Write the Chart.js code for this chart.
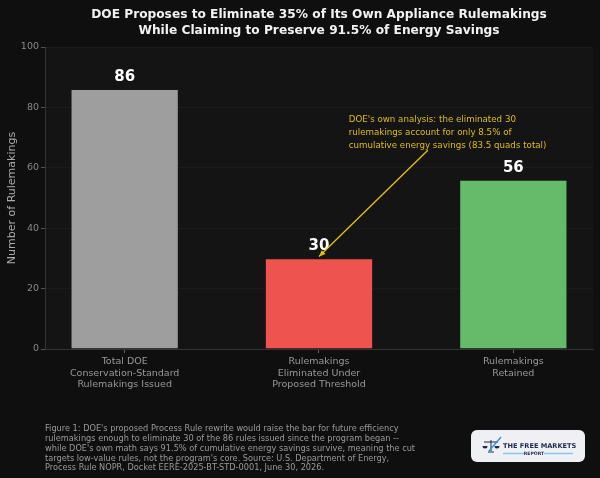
<!DOCTYPE html>
<html><head><meta charset="utf-8">
<script src="https://cdn.jsdelivr.net/npm/chart.js@4/dist/chart.umd.min.js"></script>
<style>html,body{margin:0;padding:0;background:#0f0f0f;}#wrap{width:600px;height:478px;position:relative;}</style>
</head><body><div id="wrap"><canvas id="c" width="600" height="478"></canvas></div>
<script>
const categories = [
  ["Total DOE", "Conservation-Standard", "Rulemakings Issued"],
  ["Rulemakings", "Eliminated Under", "Proposed Threshold"],
  ["Rulemakings", "Retained"]
];
const counts = [86, 30, 56];
const barColors = ["#9e9e9e", "#ef5350", "#66bb6a"];
const yTicks = [0, 20, 40, 60, 80, 100];
const titleLines = ["DOE Proposes to Eliminate 35% of Its Own Appliance Rulemakings", "While Claiming to Preserve 91.5% of Energy Savings"];
const yAxisTitle = "Number of Rulemakings";
const annotationLines = ["DOE's own analysis: the eliminated 30", "rulemakings account for only 8.5% of", "cumulative energy savings (83.5 quads total)"];
const captionLines = [
  "Figure 1: DOE's proposed Process Rule rewrite would raise the bar for future efficiency",
  "rulemakings enough to eliminate 30 of the 86 rules issued since the program began --",
  "while DOE's own math says 91.5% of cumulative energy savings survive, meaning the cut",
  "targets low-value rules, not the program's core. Source: U.S. Department of Energy,",
  "Process Rule NOPR, Docket EERE-2025-BT-STD-0001, June 30, 2026."
];
const FONT = "'DejaVu Sans', sans-serif";

const decor = {
  id: 'decor',
  beforeDraw(chart) {
    const ctx = chart.ctx, a = chart.chartArea;
    ctx.save();
    ctx.fillStyle = '#0f0f0f';
    ctx.fillRect(0, 0, chart.width, chart.height);
    ctx.fillStyle = '#141414';
    ctx.fillRect(a.left, a.top, a.right - a.left, a.bottom - a.top);
    ctx.restore();
  },
  afterDraw(chart) {
    const ctx = chart.ctx, a = chart.chartArea;
    const xs = chart.scales.x, ys = chart.scales.y;
    ctx.save();
    // title
    ctx.fillStyle = '#f2f2f2';
    ctx.font = "bold 12.2px " + FONT;
    ctx.textAlign = 'center';
    ctx.textBaseline = 'middle';
    const cx = (a.left + a.right) / 2;
    ctx.fillText(titleLines[0], cx, 14.5);
    ctx.fillText(titleLines[1], cx, 31);
    // y axis title
    ctx.save();
    ctx.translate(12, (a.top + a.bottom) / 2);
    ctx.rotate(-Math.PI / 2);
    ctx.fillStyle = '#aaaaaa';
    ctx.font = "11px " + FONT;
    ctx.fillText(yAxisTitle, 0, 0);
    ctx.restore();
    // value labels
    const meta = chart.getDatasetMeta(0);
    ctx.fillStyle = '#ffffff';
    ctx.font = "bold 15px " + FONT;
    ctx.textBaseline = 'alphabetic';
    meta.data.forEach((el, i) => {
      ctx.fillText(String(counts[i]), el.x, el.y - 8);
    });
    // annotation
    const tipX = xs.getPixelForValue(1), tipY = ys.getPixelForValue(30.6);
    const tailX = xs.getPixelForValue(1.56), tailY = ys.getPixelForValue(65.8);
    ctx.strokeStyle = '#e6c300';
    ctx.lineWidth = 1.3;
    ctx.beginPath();
    ctx.moveTo(tailX, tailY);
    ctx.lineTo(tipX, tipY);
    ctx.stroke();
    const ang = Math.atan2(tipY - tailY, tipX - tailX);
    ctx.fillStyle = '#e6c300';
    ctx.beginPath();
    ctx.moveTo(tipX, tipY);
    ctx.lineTo(tipX - 7 * Math.cos(ang - 0.4), tipY - 7 * Math.sin(ang - 0.4));
    ctx.lineTo(tipX - 7 * Math.cos(ang + 0.4), tipY - 7 * Math.sin(ang + 0.4));
    ctx.closePath();
    ctx.fill();
    ctx.fillStyle = '#dfbe10';
    ctx.font = "8.7px " + FONT;
    ctx.textAlign = 'left';
    ctx.textBaseline = 'middle';
    const tx = xs.getPixelForValue(1.153);
    const ty = ys.getPixelForValue(75.8);
    annotationLines.forEach((l, i) => ctx.fillText(l, tx, ty + i * 13));
    // caption
    ctx.fillStyle = '#9a9a9a';
    ctx.font = "8.2px " + FONT;
    captionLines.forEach((l, i) => ctx.fillText(l, 45, 429 + i * 9.8));
    // logo
    ctx.fillStyle = '#eef0f4';
    ctx.beginPath();
    ctx.roundRect(471, 430, 114, 32, 6);
    ctx.fill();
    ctx.fillStyle = '#1b2a4e';
    ctx.font = "bold 6.6px " + FONT;
    ctx.fillText("THE FREE MARKETS", 503, 446);
    ctx.font = "bold 4.6px " + FONT;
    ctx.textAlign = 'center';
    ctx.fillText("REPORT", 534, 453.5);
    ctx.strokeStyle = '#8ec5f0';
    ctx.beginPath();
    ctx.moveTo(503, 453.5); ctx.lineTo(524, 453.5);
    ctx.moveTo(544, 453.5); ctx.lineTo(573, 453.5);
    ctx.stroke();
    // scale icon
    ctx.strokeStyle = '#1b2a4e';
    ctx.lineWidth = 1;
    ctx.beginPath();
    ctx.moveTo(491, 440); ctx.lineTo(491, 451);
    ctx.moveTo(484, 442); ctx.lineTo(498, 442);
    ctx.moveTo(488, 452); ctx.lineTo(494, 452);
    ctx.stroke();
    ctx.beginPath(); ctx.arc(485, 446, 2.5, 0, Math.PI); ctx.fill();
    ctx.beginPath(); ctx.arc(497, 446, 2.5, 0, Math.PI); ctx.fill();
    ctx.strokeStyle = '#2f8fe0';
    ctx.lineWidth = 1.3;
    ctx.beginPath(); ctx.moveTo(489, 451); ctx.lineTo(501, 437); ctx.stroke();
    ctx.restore();
  }
};

new Chart(document.getElementById('c'), {
  type: 'bar',
  data: {
    datasets: [{
      data: counts.map((v, i) => ({ x: i, y: v })),
      backgroundColor: barColors,
      borderColor: '#1a1a1a',
      borderWidth: 0.8,
      barPercentage: 0.555,
      categoryPercentage: 1.0
    }]
  },
  options: {
    responsive: false,
    animation: false,
    devicePixelRatio: 1,
    layout: { padding: { top: 47, right: 7, left: 0, bottom: 0 } },
    plugins: { legend: { display: false }, tooltip: { enabled: false }, title: { display: false } },
    scales: {
      x: {
        type: 'linear',
        min: -0.41, max: 2.41,
        offset: false,
        afterBuildTicks(scale) { scale.ticks = categories.map((c, i) => ({ value: i })); },
        afterFit(scale) { scale.height = 129; },
        grid: { display: true, offset: false, drawOnChartArea: false, tickLength: 4, tickColor: '#666', color: '#333' },
        border: { display: true, color: '#333333', width: 1 },
        ticks: {
          color: '#999999',
          font: { family: FONT, size: 9.5 },
          padding: 3,
          maxRotation: 0,
          autoSkip: false,
          callback: (v) => categories[v]
        }
      },
      y: {
        min: 0, max: 100,
        afterBuildTicks(scale) { scale.ticks = yTicks.map(v => ({ value: v })); },
        afterFit(scale) { scale.width = 45; },
        grid: { color: '#1d1d1d', tickColor: '#666', tickLength: 4, lineWidth: 0.8 },
        border: { display: true, color: '#333333', width: 1 },
        ticks: { color: '#888888', font: { family: FONT, size: 9.5 }, padding: 2 }
      }
    }
  },
  plugins: [decor]
});
</script></body></html>
